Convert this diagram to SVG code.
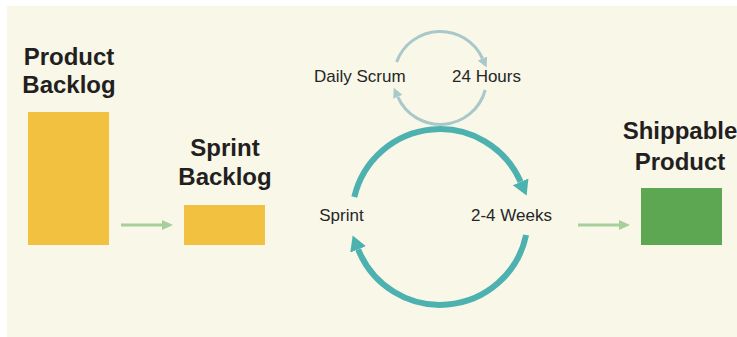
<svg xmlns="http://www.w3.org/2000/svg" width="737" height="337" viewBox="0 0 737 337">
<style>
.bold{font-family:"Liberation Sans",Arial,sans-serif;font-weight:bold;font-size:24px;fill:#231F20;text-anchor:middle}
.lbl{font-family:"Liberation Sans",Arial,sans-serif;font-size:17px;fill:#262626}
.flow{stroke:#A6CF9C;stroke-width:3;fill:none}
.big{stroke:#4DB1B0;stroke-width:6;fill:none}
.small{stroke:#A9C8CA;stroke-width:3;fill:none}
</style>
<defs>
<marker id="ahFlow" markerUnits="userSpaceOnUse" markerWidth="12" markerHeight="12" refX="0" refY="6" orient="auto" viewBox="0 0 12 12">
<path d="M0,1 L11,6 L0,11 Z" fill="#A6CF9C"/>
</marker>
<marker id="ahBig" markerUnits="userSpaceOnUse" markerWidth="16" markerHeight="18" refX="0" refY="9" orient="auto" viewBox="0 0 16 18">
<path d="M0,0.5 L15,9 L0,17.5 Z" fill="#4DB1B0"/>
</marker>
<marker id="ahSmall" markerUnits="userSpaceOnUse" markerWidth="11" markerHeight="11" refX="0" refY="5.5" orient="auto" viewBox="0 0 11 11">
<path d="M0,0.5 L10,5.5 L0,10.5 Z" fill="#A9C8CA"/>
</marker>
</defs>
<rect x="7" y="6" width="730" height="331" fill="#F8F7E8"/>
<g id="product-backlog">
<rect x="28" y="112" width="81" height="133" fill="#F2C13F"/>
<text class="bold" x="69" y="65">Product</text>
<text class="bold" x="69" y="93">Backlog</text>
</g>
<g id="sprint-backlog">
<rect x="184" y="205" width="81" height="40" fill="#F2C13F"/>
<text class="bold" x="225" y="156">Sprint</text>
<text class="bold" x="225" y="185">Backlog</text>
</g>
<g id="shippable-product">
<rect x="641" y="188" width="81" height="57" fill="#5DA752"/>
<text class="bold" x="680" y="139">Shippable</text>
<text class="bold" x="680" y="170">Product</text>
</g>
<g id="sprint-cycle">
<text class="lbl" x="341.5" y="221" text-anchor="middle">Sprint</text>
<text class="lbl" x="471" y="221">2-4 Weeks</text>
</g>
<g id="daily-cycle">
<text class="lbl" x="314" y="82">Daily Scrum</text>
<text class="lbl" x="452" y="82">24 Hours</text>
</g>
<g id="connectors">
<path class="flow" d="M121,225 H162" marker-end="url(#ahFlow)"/>
<path class="flow" d="M578,225 H619" marker-end="url(#ahFlow)"/>
<path class="big" d="M354.3,197 A88,88 0 0 1 520.6,181.8" marker-end="url(#ahBig)"/>
<path class="big" d="M526.1,235 A88,88 0 0 1 358.2,249.4" marker-end="url(#ahBig)"/>
<path class="small" d="M396.6,62 A46.5,46.5 0 0 1 482.5,58.5" marker-end="url(#ahSmall)"/>
<path class="small" d="M485.2,90 A46.5,46.5 0 0 1 397.8,96.8" marker-end="url(#ahSmall)"/>
</g>
</svg>
